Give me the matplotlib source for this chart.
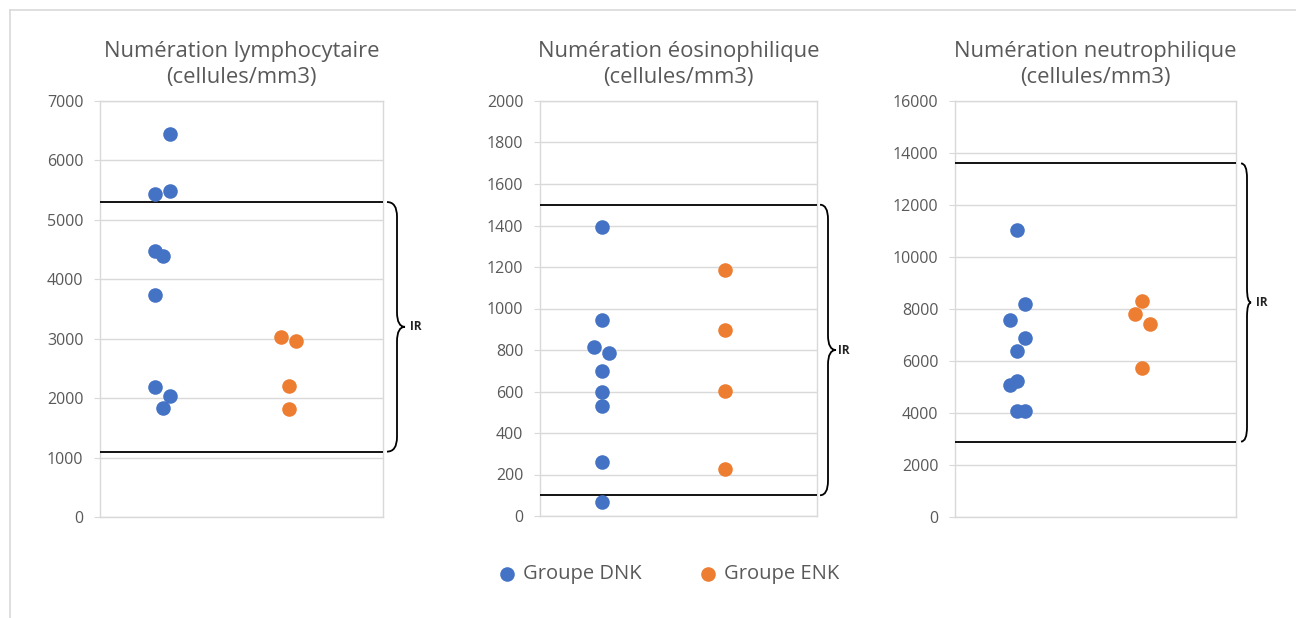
import matplotlib.pyplot as plt
from matplotlib.path import Path
from matplotlib.patches import PathPatch
import matplotlib.transforms as mtransforms

# --- data ---
titles = ["Numération lymphocytaire\n(cellules/mm3)",
          "Numération éosinophilique\n(cellules/mm3)",
          "Numération neutrophilique\n(cellules/mm3)"]
y_max = [7000, 2000, 16000]
y_step = [1000, 200, 2000]

# lymphocytes
lympho_dnk = [6450, 5480, 5440, 4480, 4400, 3730, 2190, 2030, 1830]
lympho_dnk_jit = [1, 1, -1, -1, 0, -1, -1, 1, 0]
lympho_enk = [3030, 2960, 2210, 1820]
lympho_enk_jit = [-1, 1, 0, 0]
lympho_ir = [1100, 5300]

# eosinophils
eosino_dnk = [1395, 945, 815, 787, 697, 598, 528, 258, 68]
eosino_dnk_jit = [0, 0, -1, 1, 0, 0, 0, 0, 0]
eosino_enk = [1185, 895, 604, 225]
eosino_enk_jit = [0, 0, 0, 0]
eosino_ir = [100, 1500]

# neutrophils
neutro_dnk = [11050, 8200, 7570, 6870, 6400, 5230, 5075, 4065, 4080]
neutro_dnk_jit = [0, 1, -1, 1, 0, 0, -1, 0, 1]
neutro_enk = [8290, 7800, 7440, 5730]
neutro_enk_jit = [0, -1, 1, 0]
neutro_ir = [2900, 13600]

groups = ["Groupe DNK", "Groupe ENK"]
panels = [
    (lympho_dnk, lympho_dnk_jit, lympho_enk, lympho_enk_jit, lympho_ir),
    (eosino_dnk, eosino_dnk_jit, eosino_enk, eosino_enk_jit, eosino_ir),
    (neutro_dnk, neutro_dnk_jit, neutro_enk, neutro_enk_jit, neutro_ir),
]

BLUE = "#4472C4"
ORANGE = "#ED7D31"
GRID = "#D9D9D9"
TEXT = "#595959"
FONT = "Open Sans"

plt.rcParams['font.family'] = [FONT, 'DejaVu Sans']

W, H = 1296, 618
fig = plt.figure(figsize=(W / 100, H / 100), dpi=100)

# axes boxes in pixels: left, right, top, bottom
boxes = [(100, 383, 101, 517), (540, 817, 101, 516), (955, 1236, 101, 517)]
# brace geometry in pixels: start x, vertical x, tip x, label x
braces = [(387, 397, 405, 410), (820, 828, 836, 838), (1241, 1247, 1251, 1256)]

x_dnk, x_enk, jit = 1.0, 3.0, 0.12


def draw_brace(ax, y0, y1, xs, xv, xt, xl):
    # x given in figure pixels, y in data
    left = ax.get_position().x0 * W
    width = ax.get_position().width * W
    fx = lambda p: (p - left) / width
    trans = mtransforms.blended_transform_factory(ax.transAxes, ax.transData)
    lo, hi = ax.get_ylim()
    r = (hi - lo) * 0.035
    ym = (y0 + y1) / 2
    verts = [(fx(xs), y1), (fx(xv), y1), (fx(xv), y1 - r),
             (fx(xv), ym + r),
             (fx(xv), ym), (fx(xt), ym),
             (fx(xv), ym), (fx(xv), ym - r),
             (fx(xv), y0 + r),
             (fx(xv), y0), (fx(xs), y0)]
    codes = [Path.MOVETO, Path.CURVE3, Path.CURVE3, Path.LINETO,
             Path.CURVE3, Path.CURVE3, Path.CURVE3, Path.CURVE3,
             Path.LINETO, Path.CURVE3, Path.CURVE3]
    patch = PathPatch(Path(verts, codes), transform=trans, fill=False,
                      edgecolor="black", linewidth=1.3, clip_on=False)
    ax.add_patch(patch)
    ax.text(fx(xl), ym, "IR", transform=trans, ha="left", va="center",
            fontsize=8.5, fontweight="bold", color="#222222")


for i, (dnk, dnk_j, enk, enk_j, ir) in enumerate(panels):
    l, r, t, b = boxes[i]
    ax = fig.add_axes([l / W, (H - b) / H, (r - l) / W, (b - t) / H])
    ax.set_xlim(0, 4.5)
    ax.set_ylim(0, y_max[i])
    ax.set_yticks(range(0, y_max[i] + 1, y_step[i]))
    ax.set_xticks([])
    ax.grid(axis="y", color=GRID, linewidth=1)
    ax.set_axisbelow(True)
    for s in ax.spines.values():
        s.set_color(GRID)
        s.set_linewidth(1)
    ax.tick_params(axis="y", length=4, color=GRID, pad=8,
                   labelsize=11.5, labelcolor=TEXT)

    # reference interval lines
    for v in ir:
        ax.axhline(v, color="black", linewidth=1.3, zorder=3)

    ax.scatter([x_dnk + j * jit for j in dnk_j], dnk, s=110, color=BLUE,
               zorder=4, label=groups[0], linewidths=0)
    ax.scatter([x_enk + j * jit for j in enk_j], enk, s=110, color=ORANGE,
               zorder=4, label=groups[1], linewidths=0)

    ax.set_title(titles[i], fontsize=15.8, color=TEXT, pad=13, linespacing=1.32)
    draw_brace(ax, ir[0], ir[1], *braces[i])

    if i == 0:
        handles, labels = ax.get_legend_handles_labels()

fig.legend(handles, labels, loc="center", bbox_to_anchor=(663 / W, (H - 574) / H),
           ncol=2, frameon=False, fontsize=14.5, labelcolor=TEXT,
           handletextpad=-0.2, columnspacing=2.3, markerscale=1.0)

# chart-area border
fig.add_artist(plt.Line2D([10 / W, 10 / W], [0, (H - 10) / H], color=GRID, linewidth=1.2))
fig.add_artist(plt.Line2D([10 / W, 1], [(H - 10) / H, (H - 10) / H], color=GRID, linewidth=1.2))

fig.savefig("out.png", dpi=100, facecolor="white")
